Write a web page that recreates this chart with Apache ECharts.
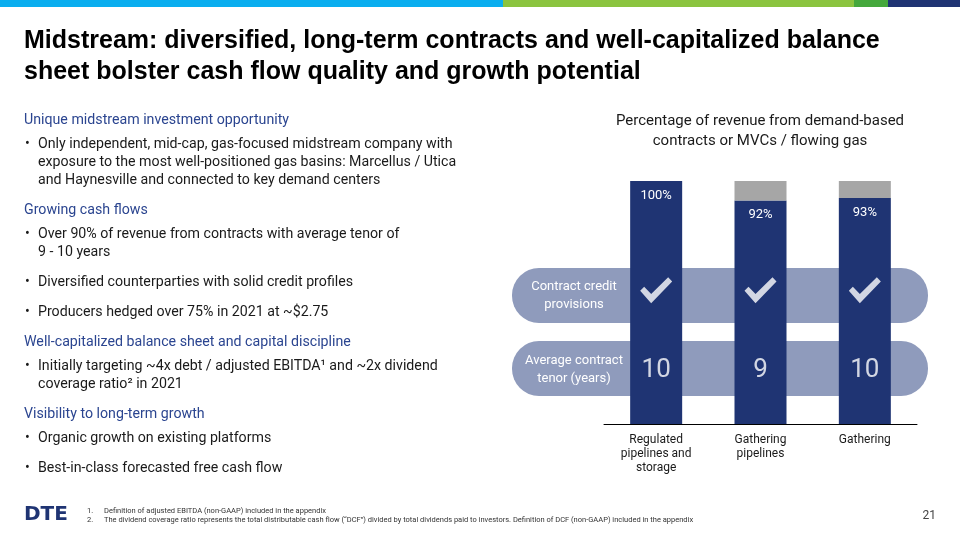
<!DOCTYPE html>
<html><head><meta charset="utf-8">
<script src="https://cdn.jsdelivr.net/npm/echarts@6/dist/echarts.min.js"></script>
<style>html,body{margin:0;padding:0;background:#fff}#c{width:960px;height:540px}</style>
</head><body><div id="c"></div>
<script>
const categories = ['Regulated\npipelines and\nstorage', 'Gathering\npipelines', 'Gathering'];
const demandPct = [100, 92, 93];
const tenorYears = [10, 9, 10];
const creditProvisions = [true, true, true];
const chartTitle = 'Percentage of revenue from demand-based\ncontracts or MVCs / flowing gas';
const rowLabels = ['Contract credit\nprovisions', 'Average contract\ntenor (years)'];

const NAVY = '#1F3473', GRAY = '#A6A6A6', BAND = '#8F9BBC', HEAD = '#2B4590', TXT = '#1a1a1a';
const remainder = demandPct.map(v => 100 - v);
const FONT = 'Roboto, "Liberation Sans", sans-serif';

const leftLines = [
  {t:'Unique midstream investment opportunity', y:120, h:true},
  {t:'•', y:144, b:true}, {t:'Only independent, mid-cap, gas-focused midstream company with', y:144},
  {t:'exposure to the most well-positioned gas basins: Marcellus / Utica', y:162},
  {t:'and Haynesville and connected to key demand centers', y:180},
  {t:'Growing cash flows', y:210, h:true},
  {t:'•', y:234, b:true}, {t:'Over 90% of revenue from contracts with average tenor of', y:234},
  {t:'9 - 10 years', y:252},
  {t:'•', y:282, b:true}, {t:'Diversified counterparties with solid credit profiles', y:282},
  {t:'•', y:312, b:true}, {t:'Producers hedged over 75% in 2021 at ~$2.75', y:312},
  {t:'Well-capitalized balance sheet and capital discipline', y:342, h:true},
  {t:'•', y:366, b:true}, {t:'Initially targeting ~4x debt / adjusted EBITDA¹ and ~2x dividend', y:366},
  {t:'coverage ratio² in 2021', y:384},
  {t:'Visibility to long-term growth', y:414, h:true},
  {t:'•', y:438, b:true}, {t:'Organic growth on existing platforms', y:438},
  {t:'•', y:468, b:true}, {t:'Best-in-class forecasted free cash flow', y:468}
];

const graphics = [
  {type:'rect', shape:{x:0,y:0,width:503,height:7}, style:{fill:'#0AAEEF'}},
  {type:'rect', shape:{x:503,y:0,width:351,height:7}, style:{fill:'#8BC43F'}},
  {type:'rect', shape:{x:854,y:0,width:34,height:7}, style:{fill:'#45A83C'}},
  {type:'rect', shape:{x:888,y:0,width:72,height:7}, style:{fill:'#1F3473'}},
  {type:'text', x:24, y:41, style:{text:'Midstream: diversified, long-term contracts and well-capitalized balance', font:'bold 25px "Liberation Sans", Arial, sans-serif', fill:'#000', textVerticalAlign:'middle'}},
  {type:'text', x:24, y:72, style:{text:'sheet bolster cash flow quality and growth potential', font:'bold 25px "Liberation Sans", Arial, sans-serif', fill:'#000', textVerticalAlign:'middle'}},
  {type:'rect', z:-10, shape:{x:512,y:268,width:416,height:55,r:27}, style:{fill:BAND}},
  {type:'rect', z:-10, shape:{x:512,y:341,width:416,height:55,r:27}, style:{fill:BAND}},
  {type:'text', x:574, y:296, z:50, style:{text:rowLabels[0], font:'13px '+FONT, fill:'#fff', textAlign:'center', textVerticalAlign:'middle', lineHeight:18}},
  {type:'text', x:574, y:370, z:50, style:{text:rowLabels[1], font:'13px '+FONT, fill:'#fff', textAlign:'center', textVerticalAlign:'middle', lineHeight:18}},
  {type:'text', x:760, y:131, style:{text:chartTitle, font:'15px '+FONT, fill:TXT, textAlign:'center', textVerticalAlign:'middle', lineHeight:20}},
  {type:'text', x:24, y:515, style:{text:'DTE', font:'900 20px "DejaVu Sans", sans-serif', fill:'#1F3473', textVerticalAlign:'middle'}},
  {type:'text', x:87, y:511, style:{text:'1.', font:'7.5px '+FONT, fill:'#333', textVerticalAlign:'middle'}},
  {type:'text', x:87, y:520, style:{text:'2.', font:'7.5px '+FONT, fill:'#333', textVerticalAlign:'middle'}},
  {type:'text', x:104, y:511, style:{text:'Definition of adjusted EBITDA (non-GAAP) included in the appendix', font:'7.5px '+FONT, fill:'#333', textVerticalAlign:'middle'}},
  {type:'text', x:104, y:520, style:{text:'The dividend coverage ratio represents the total distributable cash flow (“DCF”) divided by total dividends paid to investors. Definition of DCF (non-GAAP) included in the appendix', font:'7.5px '+FONT, fill:'#333', textVerticalAlign:'middle'}},
  {type:'text', x:936, y:516, style:{text:'21', font:'12px '+FONT, fill:'#444', textAlign:'right', textVerticalAlign:'middle'}}
];
leftLines.forEach(l => {
  graphics.push({type:'text', x: l.h ? 24 : (l.b ? 25 : 38), y:l.y, style:{text:l.t,
    font: '14.2px ' + FONT, fill: l.h ? HEAD : TXT, textVerticalAlign:'middle'}});
});

const checkPath = 'path://M0,13 L4,9 L11,16 L28,0 L32,4 L11,25 Z';
const chart = echarts.init(document.getElementById('c'));
chart.setOption({
  animation:false,
  grid:{left:604, width:313, top:181, height:243},
  xAxis:{type:'category', data:categories, axisTick:{show:false},
    axisLine:{lineStyle:{color:'#000', width:1}},
    axisLabel:{color:TXT, fontSize:12, fontFamily:FONT, lineHeight:14, margin:9, interval:0}},
  yAxis:{type:'value', min:0, max:100, show:false},
  series:[
    {type:'bar', stack:'a', barWidth:52, data:demandPct, itemStyle:{color:NAVY}, z:5,
      label:{show:true, position:'insideTop', distance:8, color:'#fff', fontSize:13, fontFamily:FONT, formatter:p=>p.value+'%'}},
    {type:'bar', stack:'a', barWidth:52, data:remainder, itemStyle:{color:GRAY}, z:5},
    {type:'scatter', z:10, symbol:checkPath, symbolSize:[32,26], itemStyle:{color:'#fff'},
      data: creditProvisions.map((v,i)=> v ? [i, 55] : null).filter(Boolean)},
    {type:'scatter', z:10, symbolSize:1, itemStyle:{color:'rgba(0,0,0,0)'},
      data: tenorYears.map((v,i)=>[i, 22]),
      label:{show:true, position:'inside', color:'#fff', fontSize:26, fontFamily:FONT, fontWeight:'normal',
        formatter:p=>String(tenorYears[p.dataIndex])}}
  ],
  graphic: graphics
});
</script></body></html>
